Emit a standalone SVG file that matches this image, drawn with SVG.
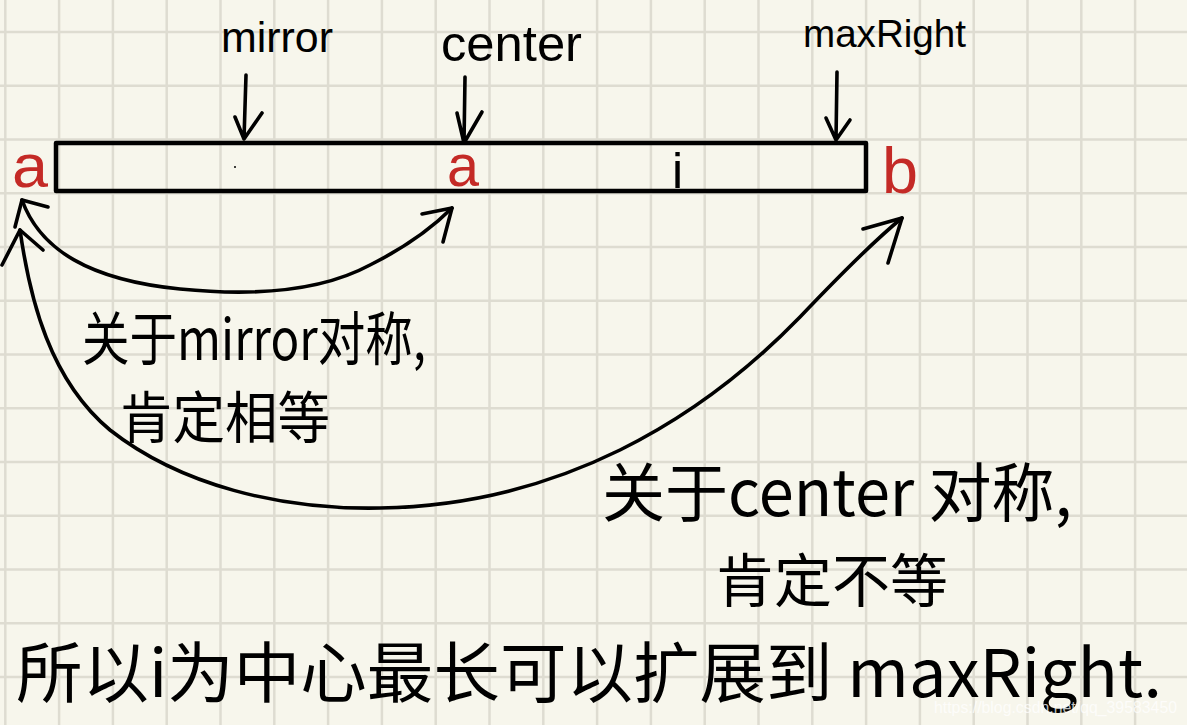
<svg xmlns="http://www.w3.org/2000/svg" width="1187" height="725" viewBox="0 0 1187 725">
<style>
.grid{stroke:#dedcd1;stroke-width:2.5;fill:none}
.ink{stroke:#000;stroke-width:3.6;fill:none;stroke-linecap:round;stroke-linejoin:round}
.box{stroke:#000;stroke-width:4.5;fill:none;stroke-linejoin:round}
.hw{font-family:"Noto Sans CJK SC","Noto Sans",sans-serif;fill:#000}
.lat{font-family:"Liberation Sans","Noto Sans",sans-serif;fill:#000}
.red{font-family:"Liberation Sans","Noto Sans",sans-serif;fill:#c42a26}
.wm{font-family:"Liberation Sans",Arial,sans-serif;fill:#ffffff;fill-opacity:0.75;font-size:16px}
</style>
<rect width="1187" height="725" fill="#f7f6ec"/>
<g id="grid">
<path class="grid" d="M5.3,0V725M59.1,0V725M112.9,0V725M166.7,0V725M220.5,0V725M274.3,0V725M328.1,0V725M381.9,0V725M435.7,0V725M489.5,0V725M543.3,0V725M597.1,0V725M650.9,0V725M704.7,0V725M758.5,0V725M812.3,0V725M866.1,0V725M919.9,0V725M973.7,0V725M1027.5,0V725M1081.3,0V725M1135.1,0V725"/>
<path class="grid" d="M0,32H1187M0,85.75H1187M0,139.5H1187M0,193.25H1187M0,247H1187M0,300.75H1187M0,354.5H1187M0,408.25H1187M0,462H1187M0,515.75H1187M0,569.5H1187M0,623.25H1187M0,677H1187"/>
</g>
<g id="array">
<rect class="box" x="56" y="143" width="810" height="48"/>
<circle cx="235" cy="167" r="1" fill="#000"/>
</g>
<g id="label-mirror"><text class="lat" x="221" y="52" font-size="42" textLength="112" lengthAdjust="spacingAndGlyphs">mirror</text></g>
<g id="label-center"><text class="lat" x="441" y="61" font-size="50" textLength="141" lengthAdjust="spacingAndGlyphs">center</text></g>
<g id="label-maxRight"><text class="lat" x="803" y="47" font-size="38" textLength="163" lengthAdjust="spacingAndGlyphs">maxRight</text></g>
<g id="a-left"><text class="red" x="12" y="187" font-size="62" textLength="36" lengthAdjust="spacingAndGlyphs">a</text></g>
<g id="a-center"><text class="red" x="447" y="186" font-size="60" textLength="32" lengthAdjust="spacingAndGlyphs">a</text></g>
<g id="i-mid"><text class="lat" x="672" y="188" font-size="50">i</text></g>
<g id="b-right"><text class="red" x="882" y="193" font-size="64" textLength="36" lengthAdjust="spacingAndGlyphs">b</text></g>
<g id="connectors">
<path class="ink" d="M246,75 L244,139 M235,117 L244,139 L262,113"/>
<path class="ink" d="M465,77 L464,143 M457,113 L464,143 L482,112"/>
<path class="ink" d="M837,72 L836,140 M826,118 L836,140 L850,120"/>
<path class="ink" d="M22,200 C40,250 90,280 180,289 C250,296 320,292 370,265 C410,245 435,225 452,208"/>
<path class="ink" d="M15,227 L22,200 L48,207"/>
<path class="ink" d="M422,214 L452,208 L443,242"/>
<path class="ink" d="M20,230 C30,300 50,380 110,430 C180,485 280,510 380,508 C560,505 700,420 800,317 C840,275 875,240 902,218"/>
<path class="ink" d="M2,265 L20,230 L43,250"/>
<path class="ink" d="M863,229 L902,218 L888,263"/>
</g>
<g id="note-mirror">
<text class="hw" x="82" y="360" font-size="58" textLength="344" lengthAdjust="spacingAndGlyphs">关于mirror对称,</text>
<text class="hw" x="120" y="438" font-size="56" textLength="210" lengthAdjust="spacingAndGlyphs">肯定相等</text>
</g>
<g id="note-center">
<text class="hw" x="602" y="516" font-size="64" textLength="470" lengthAdjust="spacingAndGlyphs">关于center 对称,</text>
<text class="hw" x="716" y="602" font-size="58" textLength="232" lengthAdjust="spacingAndGlyphs">肯定不等</text>
</g>
<g id="conclusion">
<text class="hw" x="16" y="697" font-size="66" textLength="1146" lengthAdjust="spacingAndGlyphs">所以i为中心最长可以扩展到 maxRight.</text>
</g>
<g id="watermark"><text class="wm" x="934" y="713" textLength="243" lengthAdjust="spacingAndGlyphs">https://blog.csdn.net/qq_39583450</text></g>
</svg>
